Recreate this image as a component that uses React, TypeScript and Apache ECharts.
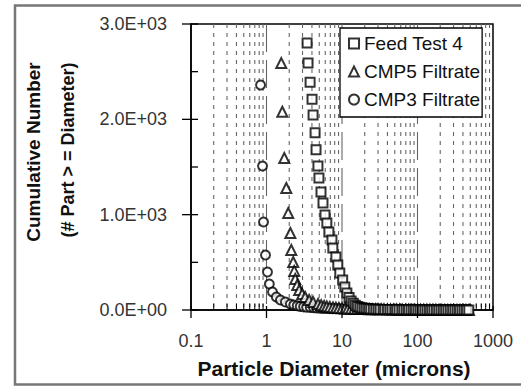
import React, { useEffect, useRef } from "react";
import * as echarts from "echarts";

const seriesNames = ["Feed Test 4", "CMP5 Filtrate", "CMP3 Filtrate"];

const xTickValues = [0.1, 1, 10, 100, 1000];
const xTickLabels = ["0.1", "1", "10", "100", "1000"];
const yTickValues = [0, 1000, 2000, 3000];
const yTickLabels = ["0.0E+00", "1.0E+03", "2.0E+03", "3.0E+03"];
const yMinorTickValues = [500, 1500, 2500];
const xMajorGrid = [1, 10, 100];
const xMinorGrid = [
  0.2, 0.3, 0.4, 0.5, 0.6, 0.7, 0.8, 0.9,
  2, 3, 4, 5, 6, 7, 8, 9,
  20, 30, 40, 50, 60, 70, 80, 90,
  200, 300, 400, 500, 600, 700, 800, 900,
];

const feedX = [
  3.45, 3.55, 3.78, 4.01, 4.14, 4.4, 4.53, 4.8, 4.95, 5.27, 5.6, 5.95, 6.3, 6.7,
  7.36, 7.56, 8.3, 8.8, 9.35, 10.2, 10.9, 11.6, 12.4, 13.2, 14.1, 15.0, 16.0,
  17.2, 18.4, 19.7, 21, 22.5, 24, 26, 28, 30, 32, 35, 37, 40, 43, 46, 50, 53,
  57, 62, 66, 71, 76, 82, 88, 94, 101, 108, 116, 125, 134, 144, 154, 165, 178,
  191, 205, 220, 236, 253, 272, 292, 313, 336, 360, 387, 415, 445, 478,
];
const feedY = [
  2800, 2590, 2390, 2210, 2045, 1860, 1680, 1510, 1385, 1238, 1122, 997, 913,
  818, 734, 650, 556, 472, 388, 315, 241, 178, 130, 95, 70, 50, 38, 28, 22, 18,
  15, 12, 10, 9, 8, 7, 6, 6, 5, 5, 4, 4, 4, 3, 3, 3, 3, 2, 2, 2, 2, 2, 1, 1, 1,
  1, 1, 1, 1, 1, 1, 0, 0, 0, 0, 0, 0, 0, 0, 0, 0, 0, 0, 0, 0,
];

const cmp5X = [
  1.57, 1.62, 1.72, 1.83, 1.94, 2.07, 2.13, 2.26, 2.33, 2.4, 2.55, 2.71, 2.97,
  3.25, 3.67, 4.14, 4.82, 5.3, 5.8, 6.3, 6.9, 7.6, 8.3, 9.1, 10, 11, 12, 13.2,
  14.5, 16, 17.5, 19.2, 21, 23, 25, 28, 30, 33, 36, 40, 44, 48, 53, 58, 63, 70,
  76, 84, 92, 101, 110, 121, 133, 146, 160, 175, 192, 210, 230, 252, 277, 303,
  333, 365, 400, 438, 480,
];
const cmp5Y = [
  2590, 2080, 1595, 1280, 1017, 808, 630, 503, 410, 325, 262, 210, 168, 136,
  105, 84, 63, 50, 42, 36, 31, 27, 24, 21, 19, 17, 15, 14, 13, 12, 11, 10, 10,
  9, 9, 8, 8, 7, 7, 6, 6, 5, 5, 5, 4, 4, 4, 3, 3, 3, 3, 2, 2, 2, 2, 2, 1, 1, 1,
  1, 1, 1, 1, 0, 0, 0, 0,
];

const cmp3X = [
  0.834, 0.886, 0.913, 0.97, 1.03, 1.09, 1.2, 1.35, 1.53, 1.78, 2.07, 2.3, 2.55,
  2.8, 3.1, 3.4, 3.8, 4.2, 4.6, 5.1, 5.6, 6.2, 6.8, 7.5, 8.3, 9.1, 10, 11, 12.1,
  13.3, 14.7, 16.2, 17.8, 19.6, 21.5, 23.7, 26, 28.7, 31.6, 34.8, 38.3, 42, 46,
  51, 56, 62, 68, 75, 82, 91, 100, 110, 121, 133, 146, 161, 177, 195, 215, 236,
  260, 286, 315, 346, 381, 419, 461,
];
const cmp3Y = [
  2360, 1510, 923, 577, 399, 273, 189, 136, 105, 84, 63, 52, 44, 38, 33, 29, 26,
  23, 21, 19, 17, 16, 15, 14, 13, 12, 11, 10, 10, 9, 9, 8, 8, 7, 7, 7, 6, 6, 6,
  5, 5, 5, 4, 4, 4, 4, 3, 3, 3, 3, 2, 2, 2, 2, 2, 1, 1, 1, 1, 1, 1, 1, 1, 0, 0,
  0, 0,
];

const FONT = "'Liberation Sans', Arial, sans-serif";

function pairs(xs: number[], ys: number[]) {
  return xs.map((x, i) => [x, ys[i]]);
}

function findLabel(v: number, values: number[], labels: string[], log: boolean) {
  for (let i = 0; i < values.length; i++) {
    const a = log ? Math.log10(values[i]) : values[i];
    const b = log ? Math.log10(v) : v;
    if (Math.abs(a - b) < 1e-6) return labels[i];
  }
  return "";
}

export default function App() {
  const ref = useRef<HTMLDivElement>(null);

  useEffect(() => {
    if (!ref.current) return;
    const chart = echarts.init(ref.current, undefined, { renderer: "svg" });

    const scatterCommon = {
      type: "scatter",
      itemStyle: { color: "#000", borderWidth: 1.6 },
      emphasis: { disabled: true },
      z: 3,
    };

    const option: any = {
      animation: false,
      backgroundColor: "#fff",
      grid: {
        left: 191,
        right: 28,
        top: 24,
        bottom: 78,
        show: true,
        borderColor: "#000",
        borderWidth: 1.5,
        backgroundColor: "transparent",
      },
      xAxis: {
        type: "log",
        logBase: 10,
        min: 0.1,
        max: 1000,
        axisLine: { show: true, lineStyle: { color: "#000", width: 1.5 } },
        axisTick: { show: false },
        splitLine: { show: false },
        axisLabel: {
          fontSize: 18,
          color: "#333",
          fontFamily: FONT,
          margin: 22,
          formatter: (v: number) => findLabel(v, xTickValues, xTickLabels, true),
        },
      },
      yAxis: {
        type: "value",
        min: 0,
        max: 3000,
        interval: 1000,
        axisLine: { show: true, lineStyle: { color: "#000", width: 1.5 } },
        axisTick: { show: false },
        splitLine: { show: false },
        axisLabel: {
          fontSize: 18,
          color: "#333",
          fontFamily: FONT,
          margin: 24,
          formatter: (v: number) => findLabel(v, yTickValues, yTickLabels, false),
        },
      },
      legend: {
        data: seriesNames,
        orient: "vertical",
        left: 340,
        top: 28,
        backgroundColor: "#fff",
        borderColor: "#000",
        borderWidth: 1.3,
        borderRadius: 0,
        padding: [6, 2, 8, 8],
        itemGap: 9,
        itemWidth: 10,
        itemHeight: 10,
        selectedMode: false,
        textStyle: { fontSize: 19, color: "#111", fontFamily: FONT },
        itemStyle: { borderWidth: 1.4 },
      },
      graphic: [
        {
          type: "rect",
          shape: { x: 15, y: 5.5, width: 530, height: 379 },
          style: { fill: "none", stroke: "#777", lineWidth: 2.5 },
          silent: true,
        },
        {
          type: "text",
          x: 334,
          y: 368,
          style: {
            text: "Particle Diameter (microns)",
            fontSize: 21,
            fontWeight: "bold",
            fontFamily: FONT,
            fill: "#111",
            align: "center",
            verticalAlign: "middle",
          },
        },
        {
          type: "text",
          x: 33,
          y: 152,
          rotation: Math.PI / 2,
          style: {
            text: "Cumulative Number",
            fontSize: 19,
            fontWeight: "bold",
            fontFamily: FONT,
            fill: "#111",
            align: "center",
            verticalAlign: "middle",
          },
        },
        {
          type: "text",
          x: 68,
          y: 150,
          rotation: Math.PI / 2,
          style: {
            text: "(# Part > = Diameter)",
            fontSize: 18,
            fontWeight: "bold",
            fontFamily: FONT,
            fill: "#111",
            align: "center",
            verticalAlign: "middle",
          },
        },
      ],
      series: [
        {
          type: "custom",
          name: "minorGrid",
          silent: true,
          clip: false,
          z: 1,
          data: xMinorGrid.map((v) => [v, 0]),
          encode: { x: 0, y: 1 },
          renderItem: (_p: any, api: any) => {
            const x = api.value(0);
            const b = api.coord([x, 0]);
            const t = api.coord([x, 3000]);
            return {
              type: "group",
              children: [
                {
                  type: "line",
                  shape: { x1: b[0], y1: t[1], x2: b[0], y2: b[1] },
                  style: { stroke: "#666", lineWidth: 1.1, lineDash: [4, 5] },
                },
                {
                  type: "line",
                  shape: { x1: b[0], y1: b[1], x2: b[0], y2: b[1] - 6 },
                  style: { stroke: "#000", lineWidth: 1 },
                },
              ],
            };
          },
        },
        {
          type: "custom",
          name: "majorGrid",
          silent: true,
          clip: false,
          z: 1,
          data: xMajorGrid.map((v) => [v, 0]),
          encode: { x: 0, y: 1 },
          renderItem: (_p: any, api: any) => {
            const x = api.value(0);
            const b = api.coord([x, 0]);
            const t = api.coord([x, 3000]);
            return {
              type: "line",
              shape: { x1: b[0], y1: t[1], x2: b[0], y2: b[1] },
              style: { stroke: "#666", lineWidth: 1.1, lineDash: [28, 8] },
            };
          },
        },
        {
          type: "custom",
          name: "xTicks",
          silent: true,
          clip: false,
          z: 4,
          data: xTickValues.map((v) => [v, 0]),
          encode: { x: 0, y: 1 },
          renderItem: (_p: any, api: any) => {
            const b = api.coord([api.value(0), 0]);
            return {
              type: "line",
              shape: { x1: b[0], y1: b[1] - 4, x2: b[0], y2: b[1] + 8 },
              style: { stroke: "#000", lineWidth: 1.3 },
            };
          },
        },
        {
          type: "custom",
          name: "yTicks",
          silent: true,
          clip: false,
          z: 4,
          data: yTickValues.map((v) => [0.1, v]),
          encode: { x: 0, y: 1 },
          renderItem: (_p: any, api: any) => {
            const b = api.coord([api.value(0), api.value(1)]);
            return {
              type: "line",
              shape: { x1: b[0] - 9, y1: b[1], x2: b[0] + 7, y2: b[1] },
              style: { stroke: "#000", lineWidth: 1.3 },
            };
          },
        },
        {
          type: "custom",
          name: "yMinorTicks",
          silent: true,
          clip: false,
          z: 4,
          data: yMinorTickValues.map((v) => [0.1, v]),
          encode: { x: 0, y: 1 },
          renderItem: (_p: any, api: any) => {
            const b = api.coord([api.value(0), api.value(1)]);
            return {
              type: "line",
              shape: { x1: b[0], y1: b[1], x2: b[0] + 7, y2: b[1] },
              style: { stroke: "#000", lineWidth: 1.3 },
            };
          },
        },
        {
          ...scatterCommon,
          name: seriesNames[2],
          symbol: "emptyCircle",
          symbolSize: 9,
          data: pairs(cmp3X, cmp3Y),
        },
        {
          ...scatterCommon,
          name: seriesNames[1],
          symbol: "emptyTriangle",
          symbolSize: 10,
          data: pairs(cmp5X, cmp5Y),
        },
        {
          ...scatterCommon,
          name: seriesNames[0],
          symbol: "emptyRect",
          symbolSize: 9,
          data: pairs(feedX, feedY),
        },
      ],
    };

    chart.setOption(option);
    return () => chart.dispose();
  }, []);

  return (
    <div
      ref={ref}
      style={{ position: "absolute", left: 0, top: 0, width: 521, height: 388 }}
    />
  );
}
